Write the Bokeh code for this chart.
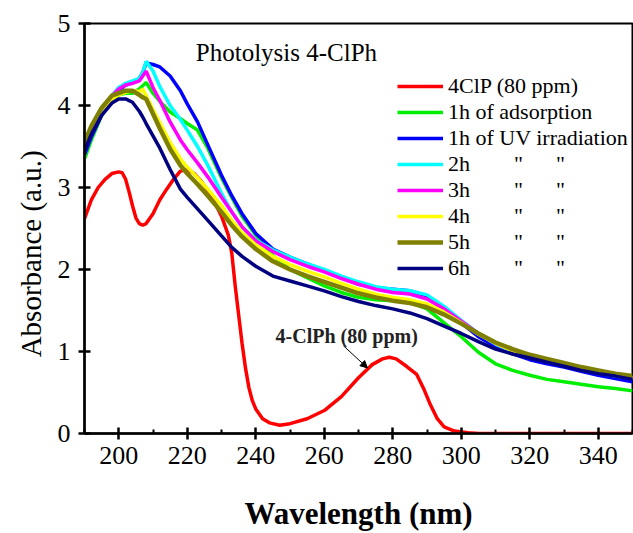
from bokeh.plotting import figure
from bokeh.models import Range1d, Label, Arrow, NormalHead, FixedTicker, Legend, LegendItem
from bokeh.embed import file_html
from bokeh.resources import INLINE

# ---------------- data ----------------
wl = [190, 192, 195, 198, 200, 202, 204, 206, 207, 208, 210, 212, 215, 218, 220, 223, 226,
      230, 233, 236, 240, 245, 250, 255, 260, 265, 270, 275, 280, 285, 290, 295, 300, 305,
      310, 315, 320, 325, 330, 335, 340, 345, 350]

ads_1h = [3.35, 3.58, 3.88, 4.06, 4.13, 4.15, 4.15, 4.20, 4.24, 4.28, 4.15, 4.05, 3.92, 3.84, 3.78, 3.70, 3.48,
          3.12, 2.88, 2.65, 2.42, 2.17, 2.00, 1.90, 1.80, 1.72, 1.66, 1.63, 1.62, 1.60, 1.52, 1.35, 1.18, 0.99,
          0.85, 0.77, 0.71, 0.66, 0.63, 0.60, 0.57, 0.55, 0.52]
uv_1h = [3.40, 3.62, 3.88, 4.08, 4.18, 4.25, 4.28, 4.33, 4.40, 4.52, 4.50, 4.47, 4.36, 4.18, 4.02, 3.80, 3.52,
         3.15, 2.90, 2.68, 2.44, 2.25, 2.15, 2.07, 1.99, 1.90, 1.82, 1.78, 1.76, 1.74, 1.68, 1.52, 1.35, 1.18,
         1.06, 0.97, 0.90, 0.85, 0.81, 0.76, 0.71, 0.67, 0.63]
uv_2h = [3.48, 3.68, 3.93, 4.12, 4.22, 4.27, 4.30, 4.33, 4.40, 4.54, 4.42, 4.23, 4.00, 3.83, 3.70, 3.50, 3.27,
         2.93, 2.70, 2.52, 2.36, 2.24, 2.15, 2.07, 2.00, 1.92, 1.85, 1.79, 1.76, 1.74, 1.69, 1.55, 1.38, 1.22,
         1.09, 1.00, 0.93, 0.88, 0.83, 0.78, 0.74, 0.70, 0.67]
uv_3h = [3.50, 3.70, 3.95, 4.12, 4.20, 4.25, 4.27, 4.30, 4.36, 4.42, 4.22, 4.06, 3.80, 3.58, 3.46, 3.30, 3.13,
         2.88, 2.70, 2.52, 2.35, 2.22, 2.12, 2.04, 1.97, 1.89, 1.82, 1.76, 1.72, 1.70, 1.64, 1.52, 1.37, 1.22,
         1.10, 1.01, 0.94, 0.89, 0.84, 0.79, 0.75, 0.71, 0.68]
uv_4h = [3.55, 3.73, 3.95, 4.08, 4.13, 4.16, 4.18, 4.17, 4.20, 4.12, 3.95, 3.79, 3.55, 3.35, 3.25, 3.12, 2.98,
         2.78, 2.60, 2.45, 2.30, 2.16, 2.06, 1.98, 1.91, 1.83, 1.76, 1.70, 1.66, 1.63, 1.58, 1.48, 1.35, 1.21,
         1.10, 1.01, 0.94, 0.89, 0.84, 0.79, 0.75, 0.71, 0.68]
uv_5h = [3.55, 3.75, 3.97, 4.12, 4.15, 4.18, 4.18, 4.13, 4.10, 4.08, 3.90, 3.72, 3.47, 3.27, 3.17, 3.04, 2.90,
         2.70, 2.54, 2.40, 2.25, 2.10, 2.00, 1.92, 1.85, 1.78, 1.71, 1.66, 1.62, 1.59, 1.54, 1.45, 1.34, 1.22,
         1.11, 1.03, 0.96, 0.91, 0.86, 0.81, 0.77, 0.73, 0.70]
uv_6h = [3.45, 3.65, 3.88, 4.03, 4.08, 4.08, 4.04, 3.93, 3.86, 3.78, 3.63, 3.48, 3.22, 2.98, 2.88, 2.74, 2.60,
         2.41, 2.27, 2.16, 2.04, 1.92, 1.86, 1.80, 1.74, 1.67, 1.61, 1.56, 1.52, 1.47, 1.40, 1.31, 1.22, 1.12,
         1.03, 0.97, 0.92, 0.87, 0.82, 0.77, 0.73, 0.70, 0.66]

wl_clp = [190, 192, 194, 196, 198, 200, 201, 202, 203, 204, 205, 206, 207, 208, 210, 212, 214, 216, 218,
          220, 222, 224, 226, 228, 230, 232, 233, 234, 235, 236, 237, 238, 239, 240, 242, 244, 247, 250,
          255, 260, 265, 270, 274, 277, 279, 281, 284, 287, 289, 291, 293, 295, 298, 302, 305, 350]
clp_80 = [2.62, 2.85, 3.00, 3.10, 3.17, 3.19, 3.18, 3.10, 2.95, 2.78, 2.63, 2.56, 2.54, 2.56, 2.68, 2.85, 2.98, 3.10, 3.20,
          3.22, 3.17, 3.08, 2.97, 2.82, 2.65, 2.42, 2.20, 1.80, 1.45, 1.10, 0.80, 0.56, 0.40, 0.30, 0.18, 0.13, 0.10, 0.12,
          0.18, 0.28, 0.45, 0.68, 0.84, 0.91, 0.93, 0.91, 0.82, 0.72, 0.55, 0.35, 0.18, 0.08, 0.03, 0.01, 0.0, 0.0]

x_ticks = [200, 220, 240, 260, 280, 300, 320, 340]
x_minor = [190, 210, 230, 250, 270, 290, 310, 330, 350]
y_ticks = [0, 1, 2, 3, 4, 5]

NB = "\u00a0"
ditto = NB * 8 + '"' + NB * 6 + '"'
labels = ["4ClP (80 ppm)", "1h of adsorption", "1h of UV irradiation",
          "2h" + ditto, "3h" + ditto, "4h" + ditto, "5h" + ditto, "6h" + ditto]
colors = ["#FF0000", "#00EE00", "#0000FF", "#00FFFF", "#FF00FF", "#FFFF00", "#808000", "#000080"]
widths = [3.5, 3.5, 3.5, 3.5, 3.5, 3.5, 4.5, 3.5]

title_text = "Photolysis 4-ClPh"
title_pos = (222.5, 4.645)
note_text = "4-ClPh (80 ppm)"
note_pos = (245.8, 1.19)
arrow_from = (265.6, 1.07)
arrow_to = (272.6, 0.80)

SERIF = "Liberation Serif"

p = figure(width=633, height=533, output_backend="svg", toolbar_location=None,
           x_range=Range1d(190, 350), y_range=Range1d(0, 5),
           min_border_left=84, min_border_right=1, min_border_top=23, min_border_bottom=98)
p.outline_line_color = "black"
p.outline_line_width = 2
p.grid.visible = False
p.background_fill_color = "white"

series = [(wl_clp, clp_80)] + [(wl, s) for s in (ads_1h, uv_1h, uv_2h, uv_3h, uv_4h, uv_5h, uv_6h)]
items = []
for (xs, ys), lab, c, w in zip(series, labels, colors, widths):
    r = p.line(xs, ys, line_color=c, line_width=w)
    items.append(LegendItem(label=lab, renderers=[r]))

legend = Legend(items=items, location=(313, 152), padding=0, margin=0, spacing=0,
                glyph_width=46, glyph_height=26, label_height=26, label_standoff=5,
                border_line_color=None, background_fill_alpha=0,
                label_text_font=SERIF, label_text_font_size="22px", label_text_color="black")
p.add_layout(legend)

for ax in (p.xaxis, p.yaxis):
    ax.axis_line_width = 2.5
    ax.axis_line_color = "black"
    ax.major_tick_line_width = 2.5
    ax.major_tick_in = 6
    ax.major_tick_out = 6
    ax.major_label_text_font = SERIF
    ax.major_label_text_font_size = "26px"
    ax.major_label_text_color = "black"
    ax.axis_label_text_color = "black"
    ax.axis_label_text_font = SERIF

p.xaxis.ticker = FixedTicker(ticks=x_ticks, minor_ticks=x_minor)
p.xaxis.minor_tick_in = 4
p.xaxis.minor_tick_out = 0
p.xaxis.minor_tick_line_width = 2
p.xaxis.major_label_standoff = 7
p.xaxis.axis_label = "Wavelength (nm)"
p.xaxis.axis_label_text_font_style = "bold"
p.xaxis.axis_label_text_font_size = "31px"
p.xaxis.axis_label_standoff = 29

p.yaxis.ticker = FixedTicker(ticks=y_ticks)
p.yaxis.minor_tick_line_color = None
p.yaxis.major_label_standoff = 8
p.yaxis.axis_label = "Absorbance (a.u.)" + NB * 7
p.yaxis.axis_label_text_font_style = "normal"
p.yaxis.axis_label_text_font_size = "29px"
p.yaxis.axis_label_standoff = 8

p.add_layout(Label(x=title_pos[0], y=title_pos[1], text=title_text, text_font=SERIF,
                   text_font_size="25px", text_color="black", text_baseline="alphabetic"))
p.add_layout(Label(x=note_pos[0], y=note_pos[1], text=note_text, text_font=SERIF,
                   text_font_size="20px", text_font_style="bold", text_color="#222222",
                   text_baseline="alphabetic"))
p.add_layout(Arrow(x_start=arrow_from[0], y_start=arrow_from[1], x_end=arrow_to[0], y_end=arrow_to[1],
                   line_width=1, line_color="black",
                   end=NormalHead(size=7, fill_color="black", line_color="black")))

open("out.html", "w").write(file_html(p, INLINE))
